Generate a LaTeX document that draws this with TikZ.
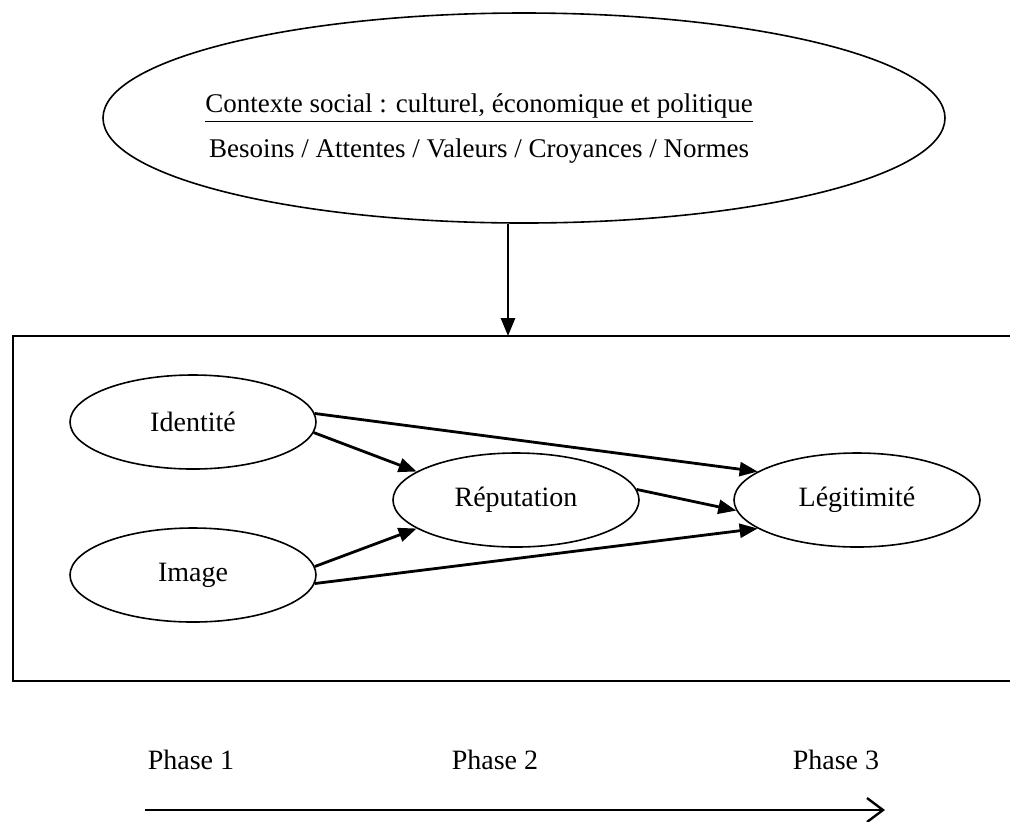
\documentclass[tikz,border=0pt]{standalone}
\usepackage{fontspec}
\setmainfont{Liberation Serif}
\usetikzlibrary{shapes.geometric,arrows.meta}

\tikzset{
  bubble/.style={draw,ellipse,line width=0.8pt,minimum width=123pt,minimum height=47pt,inner sep=0pt},
  link/.style={line width=1.4pt,-{Triangle[length=9pt,width=7pt]}},
  label/.style={font=\fontsize{14}{17}\selectfont}
}

\begin{document}
\begin{tikzpicture}[x=0.5pt,y=-0.5pt]
\useasboundingbox (0,0) rectangle (1010,821);

\node[draw,ellipse,line width=0.8pt,minimum width=421pt,minimum height=105pt] (ctx) at (524,118) {};
\node[align=center,inner sep=0pt,anchor=west,font=\fontsize{13.5}{22.5}\selectfont] (ctxtxt) at (205,129)
  {\underline{Contexte social : culturel, économique et politique}\\Besoins / Attentes / Valeurs / Croyances / Normes};

\coordinate (boxin) at (508,336);
\draw[line width=1.3pt] (1010,336) -- (13,336) -- (13,681) -- (1010,681);
\draw[link] (ctx.south -| boxin) -- (boxin);

%--------------------------------------------------------

\node[bubble,label] (ident) at (193,422) {Identité};
\node[bubble,label] (img)   at (193,575) {Image};
\node[bubble,label] (rep)   at (516,500) {Réputation};
\node[bubble,label] (legit) at (857,500) {Légitimité};

\draw[link] (ident.4)  -- (legit.164);
\draw[link] (ident.-5) -- (rep.164);
\draw[link] (img.4)    -- (rep.196);
\draw[link] (img.-4)   -- (legit.196);
\draw[link] (rep.5)    -- (legit.185);

%--------------------------------------------------------

\node[label] (ph1) at (191,760) {Phase 1};
\node[label] (ph2) at (495,760) {Phase 2};
\node[label] (ph3) at (836,760) {Phase 3};

\coordinate (t0) at (145,810);
\coordinate (t1) at (885,810);
\draw[line width=1.2pt,-{Straight Barb[length=8pt,width=12pt]}] (t0) -- (t1);
\end{tikzpicture}
\end{document}
